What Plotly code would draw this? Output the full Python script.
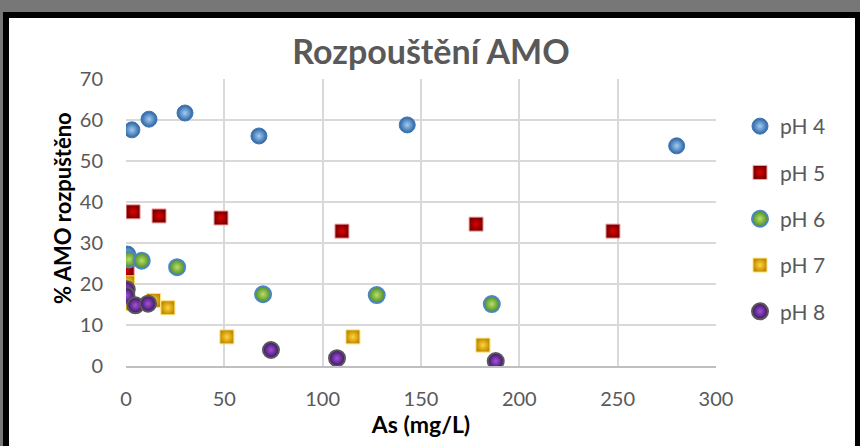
import plotly.graph_objects as go

# Dissolution of AMO vs. dissolved As concentration, by pH
ph4_as = [3.0, 11.7, 30.0, 67.6, 143.0, 280.0, 0.8, 0.3]
ph4_pct = [57.6, 60.2, 61.7, 56.1, 58.8, 53.7, 27.3, 20.0]

ph5_as = [3.6, 16.8, 48.3, 109.8, 178.0, 247.6, 0.6]
ph5_pct = [37.6, 36.6, 36.1, 32.9, 34.6, 32.9, 23.2]

ph6_as = [1.5, 8.0, 26.0, 69.7, 127.5, 186.0]
ph6_pct = [26.0, 25.7, 24.1, 17.5, 17.3, 15.1]

ph7_as = [0.2, 0.8, 14.0, 21.3, 51.3, 115.4, 181.5]
ph7_pct = [15.2, 20.3, 16.0, 14.2, 7.1, 7.1, 5.1]

ph8_as = [0.4, 0.2, 4.8, 11.2, 73.7, 107.3, 188.0]
ph8_pct = [18.7, 17.2, 14.8, 15.2, 3.9, 1.9, 1.2]

x_ticks = [0, 50, 100, 150, 200, 250, 300]
y_ticks = [0, 10, 20, 30, 40, 50, 60, 70]

FONT = "Lato"
GREY = "#595959"

# radial gradient: gradient.color is the centre highlight, color is the rim
series = [
    ("pH 4", ph4_as, ph4_pct, dict(symbol="circle", size=16, color="#2d62a0",
                                   gradient=dict(type="radial", color="#9fcdf5"),
                                   line=dict(color="#3f78b5", width=1))),
    ("pH 5", ph5_as, ph5_pct, dict(symbol="square", size=14, color="#7a0000",
                                   gradient=dict(type="radial", color="#e00000"),
                                   line=dict(color="#f0a0a0", width=1))),
    ("pH 6", ph6_as, ph6_pct, dict(symbol="circle", size=16, color="#4f8a1e",
                                   gradient=dict(type="radial", color="#b6e06a"),
                                   line=dict(color="#4a86c8", width=2))),
    ("pH 7", ph7_as, ph7_pct, dict(symbol="square", size=14, color="#c08a00",
                                   gradient=dict(type="radial", color="#ffd43a"),
                                   line=dict(color="#ffe27a", width=1))),
    ("pH 8", ph8_as, ph8_pct, dict(symbol="circle", size=16, color="#3e1066",
                                   gradient=dict(type="radial", color="#a055d8"),
                                   line=dict(color="#5a5a5a", width=2))),
]

fig = go.Figure()
for i, (name, xs, ys, mk) in enumerate(series):
    fig.add_trace(go.Scatter(x=xs, y=ys, mode="markers", name=name,
                             legendgroup=f"g{i}", marker=mk))

# figure geometry (pixels) used to place the frame around the chart
W, H = 860, 446
L, R, T, B = 126, 716, 79, 366


def px_x(p):
    return (p - L) / (R - L)


def px_y(p):
    return (B - p) / (B - T)


shapes = [
    dict(type="rect", xref="paper", yref="paper", layer="below",
         x0=px_x(3), x1=px_x(862), y0=px_y(448), y1=px_y(12),
         fillcolor="#000000", line=dict(width=0)),
    dict(type="rect", xref="paper", yref="paper", layer="below",
         x0=px_x(9), x1=px_x(855), y0=px_y(448), y1=px_y(18),
         fillcolor="#ffffff", line=dict(width=0)),
]

annotations = [
    dict(text="<b>% AMO rozpuštěno</b>", xref="paper", yref="paper",
         x=px_x(62), y=px_y(208), xanchor="center", yanchor="middle",
         textangle=-90, showarrow=False,
         font=dict(family=FONT, size=22, color="#000000")),
]

fig.update_layout(
    width=W, height=H,
    margin=dict(l=L, r=W - R, t=T, b=H - B),
    paper_bgcolor="#777777",
    plot_bgcolor="#ffffff",
    shapes=shapes,
    annotations=annotations,
    font=dict(family=FONT, color=GREY, size=19),
    title=dict(text="<b>Rozpouštění AMO</b>", x=px_x(431), xref="paper",
               xanchor="center", y=1 - 52 / H, yanchor="middle",
               font=dict(family=FONT, size=34, color=GREY)),
    xaxis=dict(range=[0, 300], tickvals=x_ticks, showgrid=True,
               gridcolor="#d9d9d9", gridwidth=1.5, zeroline=False,
               showline=True, linecolor="#bfbfbf", linewidth=1.5,
               ticks="", ticklabelstandoff=14,
               tickfont=dict(size=20, color=GREY),
               title=dict(text="<b>As (mg/L)</b>", standoff=4,
                          font=dict(size=23, color="#000000"))),
    yaxis=dict(range=[0, 70], tickvals=y_ticks, showgrid=True,
               gridcolor="#d9d9d9", gridwidth=1.5, zeroline=False,
               showline=False, ticks="", ticklabelstandoff=22,
               tickfont=dict(size=20, color=GREY)),
    legend=dict(x=px_x(740), y=px_y(106), xanchor="left", yanchor="top",
                traceorder="grouped", tracegroupgap=16,
                font=dict(size=21, color=GREY), bgcolor="rgba(0,0,0,0)"),
    showlegend=True,
)

fig.write_html("out.html")
